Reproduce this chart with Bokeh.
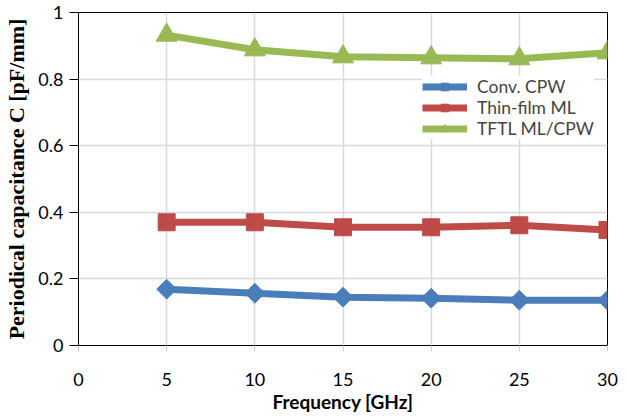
import numpy as np
from bokeh.plotting import figure
from bokeh.models import FixedTicker, Legend, LegendItem, Range1d
from bokeh.embed import file_html
from bokeh.resources import INLINE

freq = [5, 10, 15, 20, 25, 30]
conv_cpw = [0.169, 0.157, 0.145, 0.142, 0.136, 0.136]
thin_ml = [0.370, 0.370, 0.355, 0.355, 0.361, 0.347]
tftl = [0.932, 0.888, 0.867, 0.864, 0.861, 0.879]
x_ticks = [0, 5, 10, 15, 20, 25, 30]
y_ticks = [0, 0.2, 0.4, 0.6, 0.8, 1.0]
y_labels = {0: "0", 0.2: "0.2", 0.4: "0.4", 0.6: "0.6", 0.8: "0.8", 1.0: "1"}

p = figure(width=627, height=419, output_backend="svg", toolbar_location=None,
           x_range=Range1d(0, 30), y_range=Range1d(0, 1),
           min_border_left=78, min_border_right=20, min_border_top=12, min_border_bottom=74)

p.outline_line_color = "black"
p.outline_line_width = 1
p.background_fill_color = "white"
p.border_fill_color = "white"

for ax in (p.xaxis, p.yaxis):
    ax.axis_line_color = "black"
    ax.axis_line_width = 1
    ax.minor_tick_line_color = None
    ax.major_tick_in = 0
    ax.major_label_text_font = "Lato"
    ax.major_label_text_font_size = "18px"
    ax.major_label_text_color = "black"
    ax.axis_label_text_color = "black"

p.xaxis.ticker = FixedTicker(ticks=x_ticks)
p.yaxis.ticker = FixedTicker(ticks=y_ticks)
p.yaxis.major_label_overrides = y_labels
p.xaxis.major_tick_out = 6
p.xaxis.major_tick_line_color = "#D0D0D0"
p.yaxis.major_tick_out = 9
p.yaxis.major_tick_line_color = "black"
p.yaxis.major_label_standoff = 6
p.xaxis.major_label_standoff = 21

p.xaxis.axis_label = "Frequency [GHz]"
p.xaxis.axis_label_text_font = "Lato"
p.xaxis.axis_label_text_font_style = "bold"
p.xaxis.axis_label_text_font_size = "19px"
p.xaxis.axis_label_standoff = 1

p.yaxis.axis_label = "Periodical capacitance C [pF/mm]"
p.yaxis.axis_label_text_font = "Liberation Serif"
p.yaxis.axis_label_text_font_style = "bold"
p.yaxis.axis_label_text_font_size = "22px"
p.yaxis.axis_label_standoff = 6

p.xgrid.grid_line_color = "#D9D9D9"
p.ygrid.grid_line_color = "#D9D9D9"
p.xgrid.grid_line_width = 1.5
p.ygrid.grid_line_width = 1.5

blue = "#4A7EBB"
red = "#BE4B48"
green = "#98B954"

l1 = p.line(freq, conv_cpw, line_color=blue, line_width=7)
m1 = p.scatter(freq, conv_cpw, marker="square", angle=np.pi / 4, size=14, fill_color=blue, line_color=blue)
l2 = p.line(freq, thin_ml, line_color=red, line_width=7)
m2 = p.scatter(freq, thin_ml, marker="square", size=17, fill_color=red, line_color=red)
l3 = p.line(freq, tftl, line_color=green, line_width=7)
m3 = p.scatter(freq, tftl, marker="triangle", size=21, fill_color=green, line_color=green)

legend = Legend(items=[
    LegendItem(label="Conv. CPW", renderers=[l1, m1]),
    LegendItem(label="Thin-film ML", renderers=[l2, m2]),
    LegendItem(label="TFTL ML/CPW", renderers=[l3, m3]),
], location=(344, 206))
legend.label_text_font = "Lato"
legend.label_text_font_size = "17.5px"
legend.glyph_width = 45
legend.glyph_height = 19
legend.label_height = 19
legend.spacing = 0
legend.padding = 2
legend.margin = 0
legend.border_line_color = None
legend.background_fill_color = "white"
legend.background_fill_alpha = 1.0
legend.label_standoff = 10
p.add_layout(legend, "center")

open("out.html", "w").write(file_html(p, INLINE))
